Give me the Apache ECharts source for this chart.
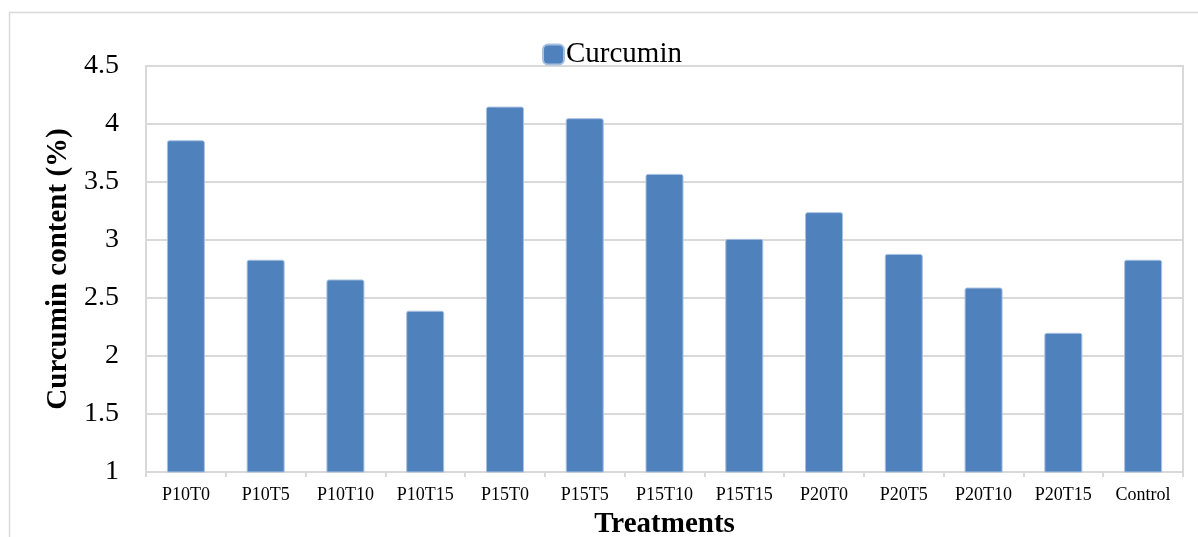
<!DOCTYPE html>
<html>
<head>
<meta charset="utf-8">
<script src="https://cdn.jsdelivr.net/npm/echarts@6/dist/echarts.min.js"></script>
<style>
  html, body { margin: 0; padding: 0; background: #fff; }
  #chart { width: 1198px; height: 537px; }
</style>
</head>
<body>
<div id="chart"></div>
<script>
// Treatment labels along the x axis
const treatments = ['P10T0', 'P10T5', 'P10T10', 'P10T15', 'P15T0', 'P15T5', 'P15T10',
                    'P15T15', 'P20T0', 'P20T5', 'P20T10', 'P20T15', 'Control'];
// Curcumin content (%) per treatment
const curcumin = [3.86, 2.83, 2.66, 2.39, 4.15, 4.05, 3.57, 3.01, 3.24, 2.88, 2.59, 2.20, 2.83];

const serif = '"Liberation Serif", "Times New Roman", serif';
const gridGray = '#d9d9d9';

const chart = echarts.init(document.getElementById('chart'));
chart.setOption({
  animation: false,
  backgroundColor: '#fff',
  graphic: [{
    type: 'rect',
    shape: { x: 9.5, y: 12.5, width: 1200, height: 540 },
    style: { fill: 'none', stroke: gridGray, lineWidth: 1.5 },
    silent: true
  }],
  legend: {
    top: 35,
    left: 537,
    icon: 'roundRect',
    itemWidth: 21,
    itemHeight: 20,
    itemGap: 4,
    textStyle: { fontFamily: serif, fontSize: 29, color: '#000', padding: [0, 0, 0, -3] },
    data: ['Curcumin']
  },
  grid: {
    left: 146, right: 15, top: 66, bottom: 65,
    outerBoundsMode: 'none',
    show: true, borderColor: gridGray, borderWidth: 2, backgroundColor: 'transparent'
  },
  xAxis: {
    type: 'category',
    data: treatments,
    name: 'Treatments',
    nameLocation: 'middle',
    nameGap: 38,
    nameTextStyle: { fontFamily: serif, fontSize: 29, fontWeight: 'bold', color: '#000' },
    axisLine: { lineStyle: { color: gridGray, width: 2 } },
    axisTick: { show: true, length: 5, lineStyle: { color: gridGray, width: 2 } },
    axisLabel: { fontFamily: serif, fontSize: 18, color: '#000', margin: 14, interval: 0 }
  },
  yAxis: {
    type: 'value',
    min: 1,
    max: 4.5,
    interval: 0.5,
    name: 'Curcumin content (%)',
    nameLocation: 'middle',
    nameGap: 70,
    nameRotate: 90,
    nameTextStyle: { fontFamily: serif, fontSize: 29, fontWeight: 'bold', color: '#000' },
    axisLine: { show: true, lineStyle: { color: gridGray, width: 2 } },
    axisTick: { show: false },
    axisLabel: { fontFamily: serif, fontSize: 28, color: '#000', margin: 27 },
    splitLine: { lineStyle: { color: gridGray, width: 2 } }
  },
  series: [{
    name: 'Curcumin',
    type: 'bar',
    data: curcumin,
    barWidth: 38,
    itemStyle: {
      color: '#4F81BD',
      borderColor: '#a8c0e0',
      borderWidth: 1,
      borderRadius: [2, 2, 0, 0]
    }
  }]
});
</script>
</body>
</html>
